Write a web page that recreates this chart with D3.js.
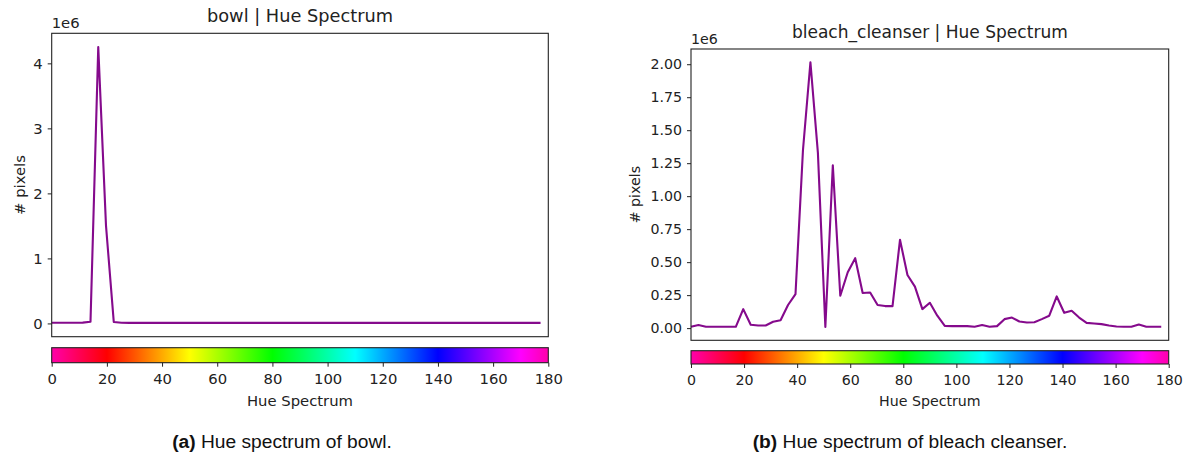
<!DOCTYPE html>
<html>
<head>
<meta charset="utf-8">
<script src="https://cdn.jsdelivr.net/npm/d3@7"></script>
<style>
  body { margin: 0; background: #fff; }
  svg { display: block; }
  .tick text { fill: #222; }
</style>
</head>
<body>
<svg id="chart" width="1189" height="455"></svg>
<script>
// 64 hue bins over 0..180 (OpenCV hue range)
const binCount = 64
const hueBins = d3.range(binCount).map(i => i * 180 / binCount)

// pixel counts, in units of 1e6
const bowlPixels = [
  0.010, 0.010, 0.010, 0.010, 0.012, 0.025, 4.250, 1.500, 0.022, 0.010,
  0.008, 0.008, 0.008, 0.008, 0.008, 0.008, 0.008, 0.008, 0.008, 0.008,
  0.008, 0.008, 0.008, 0.008, 0.008, 0.008, 0.008, 0.008, 0.008, 0.008,
  0.008, 0.008, 0.008, 0.008, 0.008, 0.008, 0.008, 0.008, 0.008, 0.008,
  0.008, 0.008, 0.008, 0.008, 0.008, 0.008, 0.008, 0.008, 0.008, 0.008,
  0.008, 0.008, 0.008, 0.008, 0.008, 0.008, 0.008, 0.008, 0.008, 0.008,
  0.008, 0.008, 0.008, 0.008
]
const bleachPixels = [
  0.010, 0.023, 0.010, 0.010, 0.010, 0.010, 0.010, 0.144, 0.025, 0.020,
  0.020, 0.048, 0.060, 0.175, 0.258, 1.348, 2.015, 1.330, 0.008, 1.234,
  0.245, 0.423, 0.530, 0.266, 0.270, 0.175, 0.167, 0.167, 0.669, 0.403,
  0.314, 0.144, 0.192, 0.094, 0.017, 0.015, 0.015, 0.015, 0.010, 0.023,
  0.010, 0.015, 0.068, 0.080, 0.050, 0.043, 0.045, 0.068, 0.094, 0.240,
  0.116, 0.132, 0.080, 0.040, 0.035, 0.030, 0.020, 0.012, 0.010, 0.010,
  0.027, 0.010, 0.010, 0.010
]

const bowlTicks = [0, 1, 2, 3, 4]
const bleachTicks = [0, 0.25, 0.5, 0.75, 1.0, 1.25, 1.5, 1.75, 2.0]
const hueTicks = [0, 20, 40, 60, 80, 100, 120, 140, 160, 180]

const svg = d3.select("#chart")
const defs = svg.append("defs")

// hue colour of the colorbar: red sits at 20, step of 2 degrees per unit
function hueColor(v) {
    const h = ((v - 20) * 2 + 720) % 360
    return d3.hsl(h, 1, 0.5).formatHex()
}

const grad = defs.append("linearGradient")
    .attr("id", "hueGrad")
    .attr("x1", "0%").attr("x2", "100%")
    .attr("y1", "0%").attr("y2", "0%")
d3.range(0, 181, 5).forEach(v => {
    grad.append("stop")
        .attr("offset", `${v / 180 * 100}%`)
        .attr("stop-color", hueColor(v))
})

function drawPanel(p) {
    const g = svg.append("g")
    const fs = p.fontSize

    const x = d3.scaleLinear().domain([0, 180]).range([p.x0, p.x1])
    const lo = d3.min(p.values), hi = d3.max(p.values)
    const pad = (hi - lo) * 0.05
    const y = d3.scaleLinear().domain([lo - pad, hi + pad]).range([p.y1, p.y0])

    // line
    const line = d3.line()
        .x((d, i) => x(hueBins[i]))
        .y(d => y(d))
    g.append("path")
     .datum(p.values)
     .attr("d", line)
     .attr("fill", "none")
     .attr("stroke", "#850a8c")
     .attr("stroke-width", 2.1)
     .attr("stroke-linejoin", "round")

    // frame
    g.append("rect")
     .attr("x", p.x0).attr("y", p.y0)
     .attr("width", p.x1 - p.x0).attr("height", p.y1 - p.y0)
     .attr("fill", "none")
     .attr("stroke", "#222")
     .attr("stroke-width", 1.1)

    // y axis
    const yAxis = g.append("g")
        .attr("transform", `translate(${p.x0},0)`)
        .call(d3.axisLeft(y).tickValues(p.ticks).tickFormat(p.fmt).tickSize(4).tickPadding(5))
    yAxis.select(".domain").remove()
    yAxis.selectAll("line").attr("stroke", "#222")
    yAxis.selectAll("text")
         .attr("font-family", "DejaVu Sans")
         .attr("font-size", fs)

    // offset label
    g.append("text")
     .attr("x", p.x0)
     .attr("y", p.y0 - 5)
     .attr("font-family", "DejaVu Sans")
     .attr("font-size", fs)
     .attr("fill", "#222")
     .text("1e6")

    // title
    g.append("text")
     .attr("x", (p.x0 + p.x1) / 2)
     .attr("y", p.y0 - 11)
     .attr("text-anchor", "middle")
     .attr("font-family", "DejaVu Sans")
     .attr("font-size", fs * 1.2)
     .attr("fill", "#222")
     .text(p.title)

    // y label
    g.append("text")
     .attr("transform", `translate(${p.ylabelX},${(p.y0 + p.y1) / 2}) rotate(-90)`)
     .attr("text-anchor", "middle")
     .attr("font-family", "DejaVu Sans")
     .attr("font-size", fs)
     .attr("fill", "#222")
     .text("# pixels")

    // colorbar
    g.append("rect")
     .attr("x", p.x0).attr("y", p.cb0)
     .attr("width", p.x1 - p.x0).attr("height", p.cb1 - p.cb0)
     .attr("fill", "url(#hueGrad)")
     .attr("stroke", "#222")
     .attr("stroke-width", 1.1)

    const cbAxis = g.append("g")
        .attr("transform", `translate(0,${p.cb1})`)
        .call(d3.axisBottom(x).tickValues(hueTicks).tickSize(4).tickPadding(7))
    cbAxis.select(".domain").remove()
    cbAxis.selectAll("line").attr("stroke", "#222")
    cbAxis.selectAll("text")
          .attr("font-family", "DejaVu Sans")
          .attr("font-size", fs)

    g.append("text")
     .attr("x", (p.x0 + p.x1) / 2)
     .attr("y", p.xlabelY)
     .attr("text-anchor", "middle")
     .attr("font-family", "DejaVu Sans")
     .attr("font-size", fs)
     .attr("fill", "#222")
     .text("Hue Spectrum")

    // caption
    const cap = svg.append("text")
        .attr("x", p.capX)
        .attr("y", 448)
        .attr("text-anchor", "middle")
        .attr("font-family", "Liberation Sans, Arial, sans-serif")
        .attr("font-size", 19.2)
        .attr("fill", "#111")
    cap.append("tspan").attr("font-weight", "bold").text(p.capTag)
    cap.append("tspan").text(" " + p.caption)
}

drawPanel({
    values: bowlPixels, ticks: bowlTicks, fmt: d3.format("d"),
    x0: 51.7, x1: 548.3, y0: 33.3, y1: 336.7, cb0: 347.7, cb1: 362.7,
    fontSize: 14.8, title: "bowl | Hue Spectrum", ylabelX: 25, xlabelY: 406,
    capX: 282, capTag: "(a)", caption: "Hue spectrum of bowl."
})

drawPanel({
    values: bleachPixels, ticks: bleachTicks, fmt: d3.format(".2f"),
    x0: 691, x1: 1168.7, y0: 49, y1: 340.3, cb0: 350.7, cb1: 364,
    fontSize: 14.2, title: "bleach_cleanser | Hue Spectrum", ylabelX: 640, xlabelY: 406,
    capX: 910, capTag: "(b)", caption: "Hue spectrum of bleach cleanser."
})
</script>
</body>
</html>
